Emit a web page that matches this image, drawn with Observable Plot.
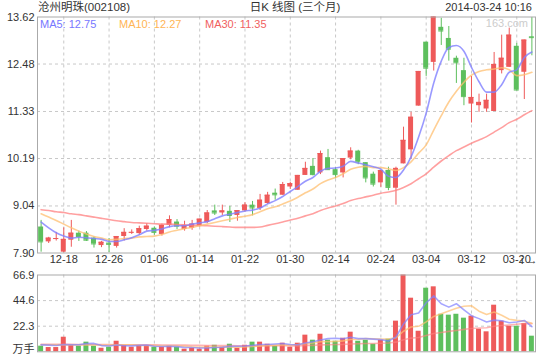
<!DOCTYPE html>
<html>
<head>
<meta charset="utf-8">
<script src="https://cdn.jsdelivr.net/npm/d3@7"></script>
<script src="https://cdn.jsdelivr.net/npm/@observablehq/plot@0.6"></script>
<style>
  html, body { margin: 0; padding: 0; background: #fff; }
  #wrap { position: relative; width: 540px; height: 360px; overflow: hidden;
          font-family: "Liberation Sans", "Noto Sans CJK SC", sans-serif; color: #333; }
  .t { position: absolute; font-size: 11px; line-height: 12px; white-space: nowrap; }
  #main, #vol { position: absolute; left: 0; }
  #main { top: 0; }
  #vol { top: 266px; }
</style>
</head>
<body>
<div id="wrap">
  <div class="t" style="left:38px; top:1px; font-size:11.5px;">沧州明珠(002108)</div>
  <div class="t" style="left:295px; top:1px; transform:translateX(-50%); font-size:11.5px;">日K 线图 (三个月)</div>
  <div class="t" style="right:8px; top:1px;">2014-03-24 10:16</div>
  <div id="main"></div>
  <div id="vol"></div>
  <div class="t" style="left:40px; top:18px; color:#7777ff;">MA5: 12.75</div>
  <div class="t" style="left:119px; top:18px; color:#ffb555;">MA10: 12.27</div>
  <div class="t" style="left:205px; top:18px; color:#f06060;">MA30: 11.35</div>
  <div class="t" style="right:12px; top:17px; color:#cccccc;">163.com</div>
</div>
<script>
// Trading days shown (2013-12-13 .. 2014-03-24)
const dates = ["12-13","12-16","12-17","12-18","12-19","12-20","12-23","12-24","12-25","12-26","12-27","12-30","12-31",
  "01-02","01-03","01-06","01-07","01-08","01-09","01-10","01-13","01-14","01-15","01-16","01-17","01-20","01-21","01-22",
  "01-23","01-24","01-27","01-28","01-29","01-30","02-07","02-10","02-11","02-12","02-13","02-14","02-17","02-18","02-19",
  "02-20","02-21","02-24","02-25","02-26","02-27","02-28","03-03","03-04","03-05","03-06","03-07","03-10","03-11","03-12",
  "03-13","03-14","03-17","03-18","03-19","03-20","03-21","03-24"];
const xTickDates = ["12-18","12-26","01-06","01-14","01-22","01-30","02-14","02-24","03-04","03-12","03-20"];
const yTicks = [7.90, 9.04, 10.19, 11.33, 12.48, 13.62];
const volTicks = [22.3, 44.6, 66.9];

const open  = [8.53,8.17,8.23,7.92,8.21,8.38,8.38,8.26,8.08,8.14,8.06,8.30,8.39,8.37,8.47,8.50,8.35,8.57,8.65,8.47,8.50,8.55,8.64,8.92,8.87,8.91,8.81,8.92,9.06,8.98,9.10,9.35,9.30,9.50,9.42,9.78,10.00,9.84,10.21,9.92,9.84,10.20,10.37,10.09,9.81,9.60,9.90,9.47,10.06,10.40,11.46,13.01,12.52,13.37,13.10,12.62,12.32,11.51,11.47,11.39,11.33,12.32,12.40,12.91,12.28,13.14];
const high  = [8.69,8.28,8.40,8.51,8.69,8.43,8.42,8.29,8.18,8.25,8.30,8.49,8.46,8.55,8.61,8.53,8.60,8.80,8.71,8.67,8.69,8.72,8.93,9.06,9.06,9.03,8.93,9.12,9.15,9.32,9.37,9.45,9.61,9.61,9.78,10.10,10.19,10.37,10.41,9.97,10.19,10.45,10.39,10.09,9.86,9.90,9.98,9.98,10.95,11.31,12.30,13.01,13.62,13.59,13.39,12.67,12.62,12.18,11.75,11.75,12.76,13.18,13.35,12.98,13.06,13.61];
const low   = [7.92,8.13,8.19,7.90,8.04,8.18,8.18,8.02,8.03,7.91,8.02,8.19,8.35,8.33,8.43,8.33,8.31,8.51,8.47,8.43,8.45,8.53,8.61,8.81,8.81,8.64,8.67,8.89,8.80,8.93,9.08,9.18,9.30,9.44,9.42,9.78,9.77,9.80,9.90,9.70,9.72,10.16,10.04,9.60,9.50,9.49,9.41,9.06,10.06,10.18,11.46,12.18,12.31,12.93,12.55,12.01,11.47,11.05,11.31,11.31,11.33,12.24,12.40,11.83,11.62,12.68];
const close = [8.17,8.26,8.25,8.23,8.38,8.30,8.21,8.12,8.16,8.11,8.30,8.40,8.40,8.49,8.55,8.40,8.57,8.71,8.55,8.57,8.60,8.72,8.87,8.87,8.92,8.81,8.93,9.06,8.99,9.18,9.30,9.31,9.56,9.58,9.78,9.95,9.80,10.31,9.92,9.80,10.19,10.37,10.11,9.72,9.57,9.90,9.49,9.95,10.63,11.19,12.30,12.38,13.62,13.28,12.84,12.51,11.69,11.67,11.55,11.60,12.47,12.62,13.18,11.85,13.06,13.12];
const volume = [4.9,3.7,3.7,12.7,5.7,4.9,8.4,4.9,3.1,4.0,9.2,5.5,4.0,5.5,5.5,4.0,4.0,4.9,4.0,2.3,3.1,2.3,4.9,5.7,4.0,6.6,3.1,5.7,8.4,8.4,6.6,4.9,7.5,4.0,7.5,14.5,10.1,15.3,10.1,9.2,11.8,17.1,9.2,10.1,6.6,10.1,11.0,26.7,66.9,46.7,17.9,55.4,56.6,32.7,31.9,32.7,29.3,31.0,19.7,17.4,40.6,26.7,22.3,22.3,24.6,13.6];

const ma5  = [8.65,8.51,8.39,8.31,8.26,8.28,8.27,8.25,8.23,8.18,8.18,8.22,8.27,8.34,8.43,8.45,8.48,8.54,8.56,8.56,8.60,8.63,8.66,8.73,8.80,8.84,8.88,8.92,8.94,8.99,9.09,9.17,9.27,9.39,9.51,9.64,9.73,9.88,9.95,9.96,10.00,10.12,10.08,10.04,9.99,9.93,9.76,9.73,9.91,10.23,10.71,11.29,12.02,12.55,12.88,12.93,12.79,12.40,12.05,11.80,11.80,11.98,12.28,12.34,12.64,12.77];
const ma10 = [8.85,8.77,8.69,8.60,8.51,8.43,8.36,8.30,8.26,8.22,8.23,8.25,8.26,8.29,8.30,8.31,8.35,8.41,8.45,8.49,8.52,8.56,8.60,8.64,8.68,8.72,8.76,8.79,8.83,8.90,8.97,9.02,9.09,9.16,9.25,9.36,9.45,9.58,9.67,9.73,9.82,9.93,9.98,10.00,9.97,9.97,9.94,9.90,9.97,10.11,10.32,10.52,10.88,11.23,11.56,11.82,12.04,12.21,12.30,12.34,12.36,12.39,12.34,12.20,12.22,12.28];
const ma30 = [8.95,8.93,8.90,8.88,8.85,8.83,8.80,8.77,8.74,8.71,8.68,8.66,8.64,8.63,8.62,8.61,8.60,8.60,8.59,8.58,8.57,8.57,8.56,8.55,8.54,8.53,8.52,8.52,8.52,8.53,8.57,8.61,8.65,8.70,8.74,8.80,8.85,8.93,8.99,9.04,9.10,9.17,9.22,9.26,9.30,9.35,9.38,9.42,9.49,9.58,9.70,9.82,9.98,10.13,10.26,10.38,10.47,10.56,10.64,10.72,10.83,10.94,11.06,11.14,11.25,11.35];
const vma5  = [6.0,5.8,5.5,6.3,6.1,6.1,7.1,7.3,5.4,5.1,5.9,5.3,5.2,5.6,5.9,4.9,4.6,4.8,4.5,3.8,3.7,3.3,3.3,3.7,4.0,4.7,4.9,5.0,5.6,6.4,6.4,6.8,7.2,6.3,6.1,7.7,8.7,10.3,11.5,11.8,11.3,12.7,11.5,11.5,11.0,10.6,9.4,12.9,24.3,32.3,33.8,42.7,48.7,41.9,38.9,41.9,36.6,31.5,28.9,26.0,27.6,27.1,25.3,25.9,27.3,21.9];
const vma10 = [6.2,6.1,6.0,6.1,6.0,5.9,6.0,6.0,5.7,5.6,6.0,6.2,6.2,5.5,5.5,5.4,5.0,5.0,5.1,4.9,4.3,4.0,4.1,4.1,3.9,4.2,4.1,4.2,4.6,5.2,5.6,5.8,6.1,5.9,6.3,7.1,7.8,8.7,8.9,9.0,9.5,10.7,10.9,11.5,11.4,11.0,11.1,12.2,17.9,21.6,22.2,26.1,30.8,33.1,35.6,37.9,39.7,40.1,35.4,32.5,34.7,31.9,28.4,27.4,26.7,24.8];
const vma30 = [6.6,6.6,6.5,6.5,6.5,6.4,6.4,6.4,6.3,6.3,6.2,6.2,6.1,6.1,6.0,6.0,5.9,5.9,5.8,5.8,5.7,5.6,5.5,5.5,5.4,5.4,5.3,5.3,5.2,5.2,5.3,5.3,5.5,5.2,5.2,5.6,5.6,6.0,6.2,6.4,6.5,6.8,7.0,7.2,7.2,7.4,7.6,8.4,10.5,11.9,12.4,14.2,15.9,16.8,17.8,18.6,19.5,20.3,20.7,21.0,22.2,22.9,23.4,24.0,24.6,24.5];

const RED = "#ee5a5a", GREEN = "#5dbf5d";
const C5 = "#8080ff", C10 = "#ffbf70", C30 = "#ff8080";
const rows = dates.map((d, i) => ({
  i, date: d, open: open[i], high: high[i], low: low[i], close: close[i], vol: volume[i],
  ma5: ma5[i], ma10: ma10[i], ma30: ma30[i], vma5: vma5[i], vma10: vma10[i], vma30: vma30[i],
  color: close[i] >= open[i] ? RED : GREEN
}));
const tickIdx = xTickDates.map(d => dates.indexOf(d));
const xDomain = [-0.48, 65.48];
const HW = 0.33;
const font = {fontFamily: '"Liberation Sans", "Noto Sans CJK SC", sans-serif', fontSize: "11px", background: "transparent", overflow: "visible"};
const grid = {stroke: "#c8c8c8", strokeDasharray: "3,3", strokeOpacity: 1};

const main = Plot.plot({
  width: 540, height: 266,
  marginLeft: 37, marginRight: 5, marginTop: 16.5, marginBottom: 13.5,
  style: font,
  x: {type: "linear", domain: xDomain, axis: null},
  y: {domain: [7.90, 13.62], axis: null},
  marks: [
    Plot.ruleY(yTicks.slice(1, -1), grid),
    Plot.ruleX(tickIdx, grid),
    Plot.axisY(yTicks, {tickSize: 0, tickPadding: 3, tickFormat: d => d.toFixed(2), fill: "#333", fontSize: 11}),
    Plot.axisX(tickIdx, {tickSize: 0, tickPadding: 2, tickFormat: i => dates[i], fill: "#333", fontSize: 11}),
    Plot.ruleX(rows, {x: "i", y1: "low", y2: "high", stroke: "color", strokeWidth: 1}),
    Plot.rect(rows, {x1: d => d.i - HW, x2: d => d.i + HW, y1: "open", y2: "close", fill: "color"}),
    Plot.ruleY(rows, {x1: d => d.i - HW, x2: d => d.i + HW, y: "close", stroke: "color", strokeWidth: 1}),
    Plot.line(rows, {x: "i", y: "ma30", stroke: C30, strokeWidth: 1.6, strokeOpacity: 0.75, curve: "monotone-x"}),
    Plot.line(rows, {x: "i", y: "ma10", stroke: C10, strokeWidth: 1.6, strokeOpacity: 0.75, curve: "monotone-x"}),
    Plot.line(rows, {x: "i", y: "ma5", stroke: C5, strokeWidth: 1.6, strokeOpacity: 0.8, curve: "monotone-x"}),
    Plot.frame({stroke: "#aaa", strokeWidth: 1})
  ]
});
document.getElementById("main").appendChild(main);

const vol = Plot.plot({
  width: 540, height: 94,
  marginLeft: 37, marginRight: 5, marginTop: 8.5, marginBottom: 8.7,
  style: font,
  x: {type: "linear", domain: xDomain, axis: null},
  y: {domain: [0, 66.9], axis: null},
  marks: [
    Plot.ruleY(volTicks.slice(0, -1), grid),
    Plot.ruleX(tickIdx, grid),
    Plot.axisY(volTicks, {tickSize: 0, tickPadding: 3, tickFormat: d => d.toFixed(1), fill: "#333", fontSize: 11}),
    Plot.axisY([0], {tickSize: 0, tickPadding: 3, tickFormat: () => "万手", fill: "#333", fontSize: 11, dy: -2}),
    Plot.rect(rows, {x1: d => d.i - HW, x2: d => d.i + HW, y1: 0, y2: "vol", fill: "color"}),
    Plot.line(rows, {x: "i", y: "vma30", stroke: C30, strokeWidth: 1.6, strokeOpacity: 0.6}),
    Plot.line(rows, {x: "i", y: "vma10", stroke: C10, strokeWidth: 1.6, strokeOpacity: 0.7}),
    Plot.line(rows, {x: "i", y: "vma5", stroke: C5, strokeWidth: 1.6, strokeOpacity: 0.7}),
    Plot.frame({stroke: "#aaa", strokeWidth: 1})
  ]
});
document.getElementById("vol").appendChild(vol);
</script>
</body>
</html>
